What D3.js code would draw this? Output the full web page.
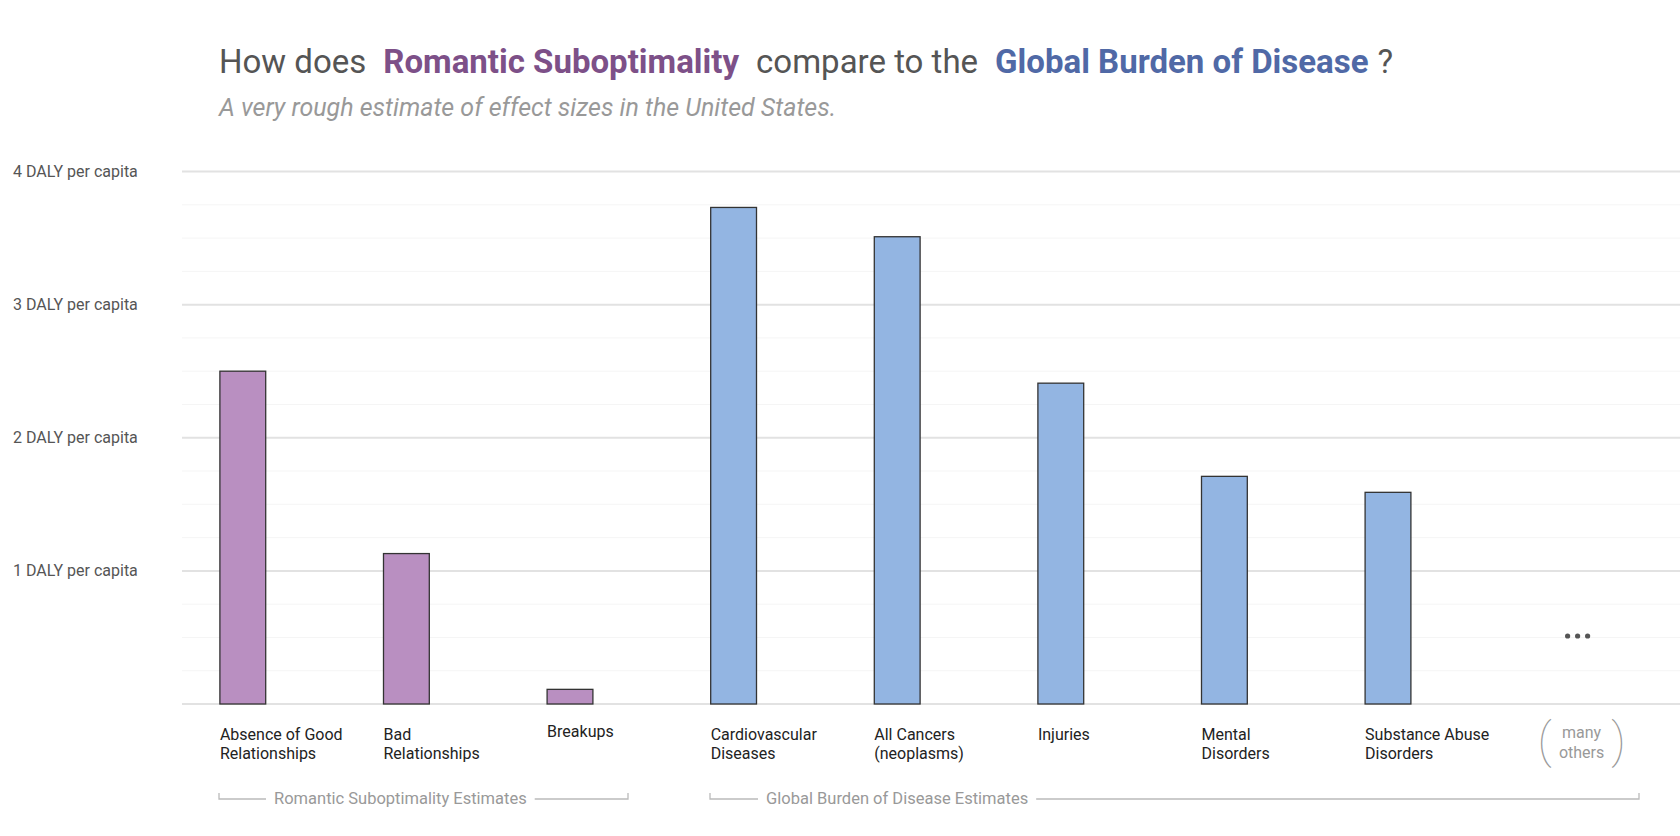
<!DOCTYPE html>
<html lang="en">
<head>
<meta charset="UTF-8">
<title>Romantic Suboptimality</title>
<script src="https://d3js.org/d3.v7.min.js"></script>
<style>
  html, body { margin: 0; background: #fff; }
  svg { font-family: Roboto, "Noto Sans", sans-serif; display: block; }
</style>
</head>
<body>
<div id="vis"></div>
<script>
var categories = ["Absence of Good|Relationships", "Bad|Relationships", "Breakups",
    "Cardiovascular|Diseases", "All Cancers|(neoplasms)", "Injuries",
    "Mental|Disorders", "Substance Abuse|Disorders", "many others"];
var values = [2.50, 1.13, 0.11, 3.73, 3.51, 2.41, 1.71, 1.59, null];
var groups = ["romantic", "romantic", "romantic", "gbd", "gbd", "gbd", "gbd", "gbd", null];
var yTicks = [1, 2, 3, 4];

var width = 1680, height = 836;
var svg = d3.select('#vis').append('svg')
    .attr('width', width).attr('height', height);

var x = d3.scaleBand().domain(d3.range(categories.length))
    .range([161, 161 + 163.6 * 9]).paddingInner(0.72).paddingOuter(0.36);
var y = d3.scaleLinear().domain([0, 4]).range([704, 171.5]);
var colour = { romantic: '#b98fc1', gbd: '#93b5e2' };

// minor grid
svg.append('g').selectAll('line')
    .data(d3.range(0.25, 4, 0.25).filter(function(v) { return v % 1 !== 0; }))
    .enter().append('line')
    .attr('x1', 182).attr('x2', width)
    .attr('y1', function(d) { return y(d); }).attr('y2', function(d) { return y(d); })
    .attr('stroke', '#f5f5f5').attr('stroke-width', 1);

// major grid
svg.append('g').selectAll('line')
    .data([0].concat(yTicks)).enter().append('line')
    .attr('x1', 182).attr('x2', width)
    .attr('y1', function(d) { return y(d); }).attr('y2', function(d) { return y(d); })
    .attr('stroke', '#e2e2e2').attr('stroke-width', 2);

svg.append('g').selectAll('text')
    .data(yTicks).enter().append('text')
    .attr('x', 13).attr('y', function(d) { return y(d) + 5; })
    .attr('font-size', 16).attr('fill', '#555')
    .text(function(d) { return d + ' DALY per capita'; });

// bars
var barData = values.map(function(v, i) { return { i: i, v: v, g: groups[i] }; })
    .filter(function(d) { return d.v !== null; });
svg.append('g').selectAll('rect')
    .data(barData).enter().append('rect')
    .attr('x', function(d) { return x(d.i); })
    .attr('width', x.bandwidth())
    .attr('y', function(d) { return y(d.v); })
    .attr('height', function(d) { return y(0) - y(d.v); })
    .attr('fill', function(d) { return colour[d.g]; })
    .attr('stroke', '#333').attr('stroke-width', 1.3);

// category labels
var labels = svg.append('g').selectAll('text')
    .data(categories.slice(0, 8)).enter().append('text')
    .attr('x', function(d, i) { return x(i); })
    .attr('y', function(d, i) { return i === 2 ? 737 : 740; })
    .attr('font-size', 16).attr('fill', '#222');
labels.selectAll('tspan')
    .data(function(d) { return d.split('|'); }).enter().append('tspan')
    .attr('x', function() { return d3.select(this.parentNode).attr('x'); })
    .attr('dy', function(d, j) { return j === 0 ? 0 : 19; })
    .text(function(d) { return d; });

// many others + ellipsis
var mx = x(8) + x.bandwidth() / 2 + 30;
svg.append('g').selectAll('circle').data([-10, 0, 10]).enter().append('circle')
    .attr('cx', function(d) { return mx - 4 + d; }).attr('cy', 636).attr('r', 2.6)
    .attr('fill', '#555');
var mo = svg.append('g').attr('fill', '#999').attr('text-anchor', 'middle');
mo.append('text').attr('x', mx).attr('y', 738).attr('font-size', 16).text('many');
mo.append('text').attr('x', mx).attr('y', 758).attr('font-size', 16).text('others');
mo.append('text').attr('x', mx - 37).attr('y', 757).attr('font-size', 48).attr('font-weight', 100).text('(');
mo.append('text').attr('x', mx + 37).attr('y', 757).attr('font-size', 48).attr('font-weight', 100).text(')');

// group brackets
var brackets = [
    { text: 'Romantic Suboptimality Estimates', x1: 219, x2: 628, tx: 274 },
    { text: 'Global Burden of Disease Estimates', x1: 710, x2: 1639, tx: 766 }
];
var by = 799;
brackets.forEach(function(b) {
    var g = svg.append('g');
    var t = g.append('text').attr('x', b.tx).attr('y', by + 5).attr('font-size', 16.5)
        .attr('fill', '#999').text(b.text);
    var tw = t.node().getComputedTextLength();
    g.append('path')
        .attr('d', 'M' + b.x1 + ',' + (by - 6) + 'V' + by + 'H' + (b.tx - 8) +
            'M' + (b.tx + tw + 8) + ',' + by + 'H' + b.x2 + 'V' + (by - 6))
        .attr('fill', 'none').attr('stroke', '#bbb').attr('stroke-width', 1.3);
});

// title
var title = svg.append('text').attr('x', 219).attr('y', 73).attr('font-size', 33).attr('fill', '#555');
title.append('tspan').text('How does');
title.append('tspan').attr('dx', 17).attr('font-weight', 700).attr('fill', '#7d5088').text('Romantic Suboptimality');
title.append('tspan').attr('dx', 17).text('compare to the');
title.append('tspan').attr('dx', 17).attr('font-weight', 700).attr('fill', '#5069a6').text('Global Burden of Disease');
title.append('tspan').attr('dx', 9).text('?');

svg.append('text').attr('x', 219).attr('y', 116).attr('font-size', 25)
    .attr('font-style', 'italic').attr('fill', '#999')
    .text('A very rough estimate of effect sizes in the United States.');
</script>
</body>
</html>
